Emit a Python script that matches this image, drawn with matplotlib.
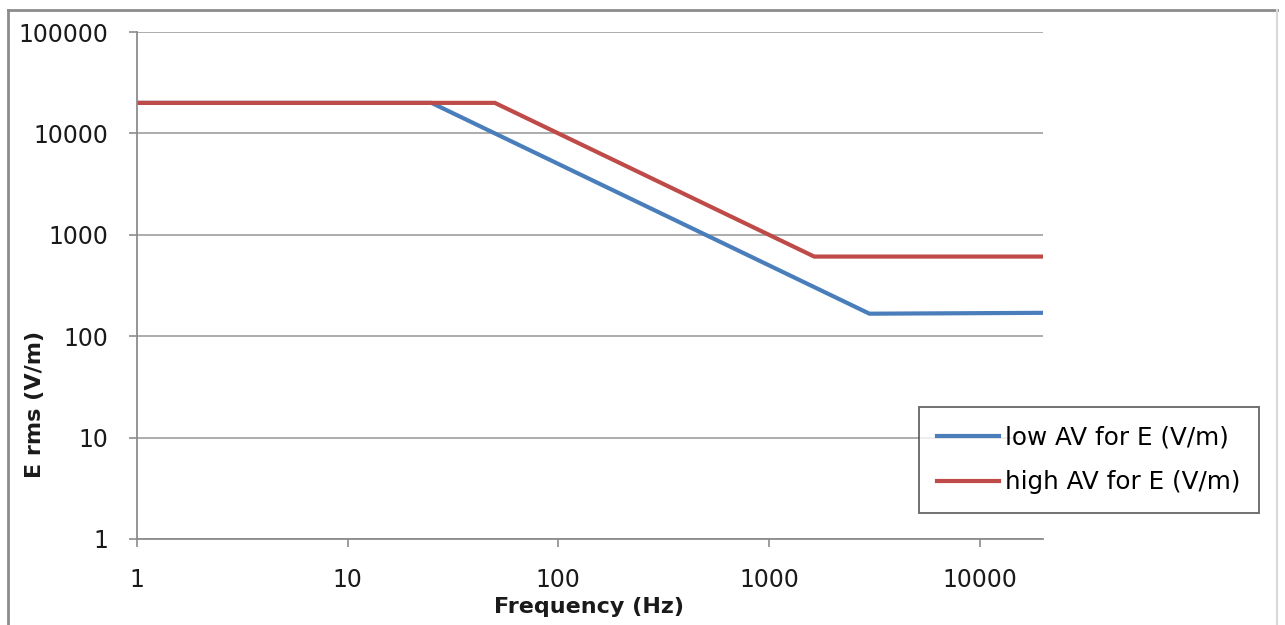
import matplotlib
matplotlib.use("Agg")
import matplotlib.pyplot as plt
from matplotlib.lines import Line2D

# Data (frequency in Hz, E rms in V/m)
freq_low = [1, 25, 3000, 20000]
e_low = [20000, 20000, 166.7, 170]
freq_high = [1, 50, 1640, 20000]
e_high = [20000, 20000, 610, 610]

series_labels = ["low AV for E (V/m)", "high AV for E (V/m)"]
x_ticks = [1, 10, 100, 1000, 10000]
x_ticklabels = ["1", "10", "100", "1000", "10000"]
y_ticks = [1, 10, 100, 1000, 10000, 100000]
y_ticklabels = ["1", "10", "100", "1000", "10000", "100000"]

W, H = 1285, 625
fig = plt.figure(figsize=(W / 100, H / 100), dpi=100)
plt.rcParams['font.family'] = ['DejaVu Sans']

ax = fig.add_axes([137 / W, 1 - 539 / H, (1043 - 137) / W, (539 - 32) / H])
ax.set_xscale('log')
ax.set_yscale('log')
ax.set_xlim(1, 20000)
ax.set_ylim(1, 100000)

blue = '#4A7EBB'
red = '#BE4B48'
ax.plot(freq_low, e_low, color=blue, lw=3, label=series_labels[0], solid_joinstyle='miter')
ax.plot(freq_high, e_high, color=red, lw=3, label=series_labels[1], solid_joinstyle='miter')

ax.set_xticks(x_ticks)
ax.set_xticklabels(x_ticklabels)
ax.set_yticks(y_ticks)
ax.set_yticklabels(y_ticklabels)
ax.xaxis.set_minor_locator(matplotlib.ticker.NullLocator())
ax.yaxis.set_minor_locator(matplotlib.ticker.NullLocator())

ax.grid(axis='y', color='#A6A6A6', lw=1.3)
ax.set_axisbelow(True)
for s in ['top', 'right']:
    ax.spines[s].set_visible(False)
for s in ['left', 'bottom']:
    ax.spines[s].set_color('#8C8C8C')
    ax.spines[s].set_linewidth(1.3)

ax.tick_params(axis='y', direction='out', length=6, width=1.2, color='#8C8C8C',
               pad=15, labelsize=17, labelcolor='#1a1a1a')
ax.tick_params(axis='x', direction='out', length=6, width=1.2, color='#8C8C8C',
               pad=15, labelsize=17, labelcolor='#1a1a1a')

fig.text(589 / W, 1 - 607 / H, 'Frequency (Hz)', ha='center', va='center',
         fontsize=16, fontweight='bold', color='#1a1a1a')
fig.text(35 / W, 1 - 404 / H, 'E rms (V/m)', ha='center', va='center',
         rotation=90, fontsize=16, fontweight='bold', color='#1a1a1a')

leg = ax.legend(loc='upper left', bbox_to_anchor=(919 / W, 1 - 407 / H),
                bbox_transform=fig.transFigure, fontsize=17.7, frameon=True,
                fancybox=False, edgecolor='#404040', borderaxespad=0,
                handlelength=2.5, handletextpad=0.25, labelspacing=0.85,
                borderpad=0.75)
leg.get_frame().set_linewidth(1.3)

# outer chart border
fig.add_artist(Line2D([8 / W, 8 / W], [0, 1 - 10 / H], transform=fig.transFigure,
                      color='#8C8C8C', lw=2))
fig.add_artist(Line2D([8 / W, 1277 / W], [1 - 10 / H, 1 - 10 / H],
                      transform=fig.transFigure, color='#8C8C8C', lw=2))
fig.add_artist(Line2D([1277 / W, 1277 / W], [0, 1 - 10 / H], transform=fig.transFigure,
                      color='#D9D9D9', lw=1.5))

fig.savefig('out.png', dpi=100)
